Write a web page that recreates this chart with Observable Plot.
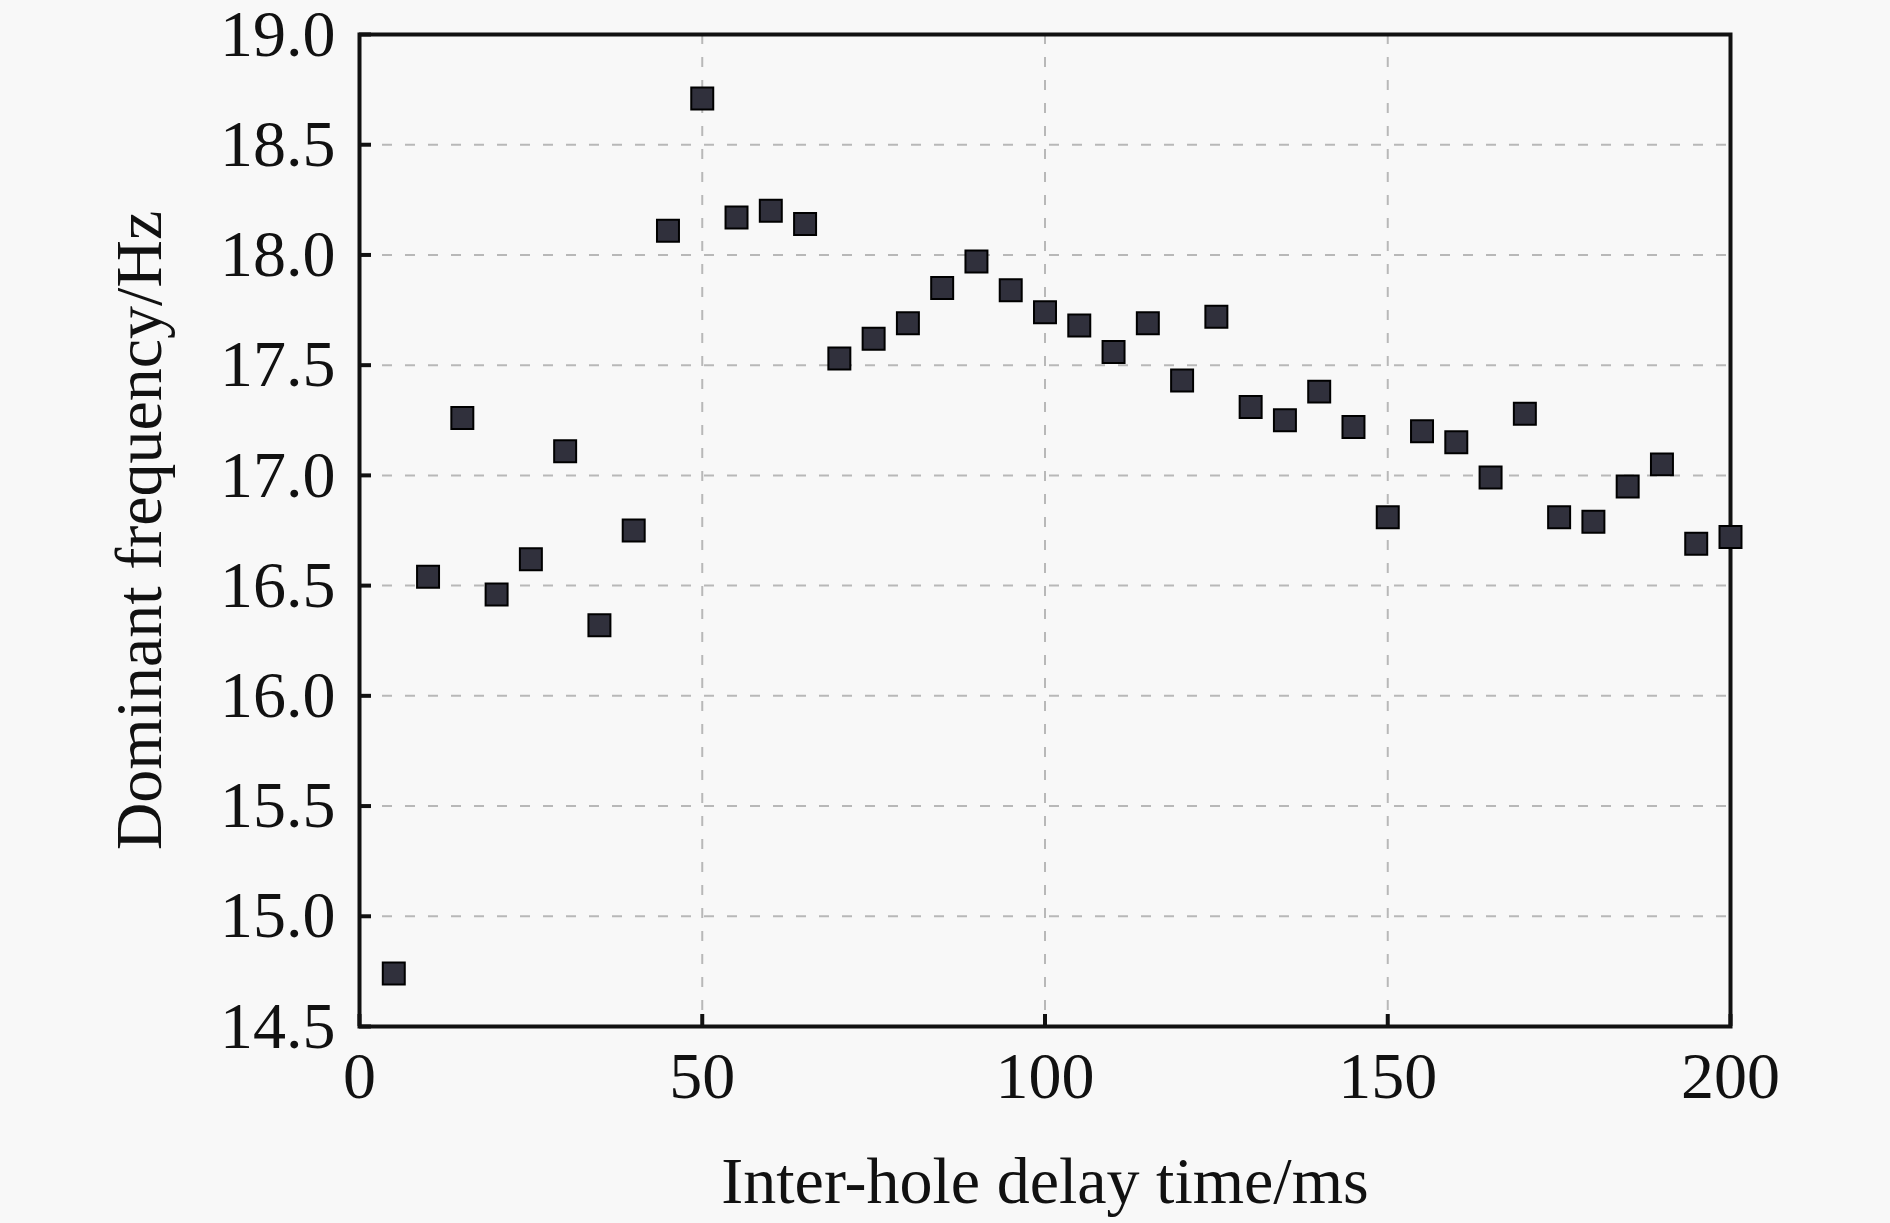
<!DOCTYPE html>
<html>
<head>
<meta charset="utf-8">
<script src="https://cdn.jsdelivr.net/npm/d3@7"></script>
<script src="https://cdn.jsdelivr.net/npm/@observablehq/plot@0.6"></script>
<style>
  html, body { margin: 0; padding: 0; background: #f8f8f8; }
  svg { display: block; }
</style>
</head>
<body>
<div id="chart"></div>
<script>
const delay = [5,10,15,20,25,30,35,40,45,50,55,60,65,70,75,80,85,90,95,100,105,110,115,120,125,130,135,140,145,150,155,160,165,170,175,180,185,190,195,200];
const freq = [14.74,16.54,17.26,16.46,16.62,17.11,16.32,16.75,18.11,18.71,18.17,18.20,18.14,17.53,17.62,17.69,17.85,17.97,17.84,17.74,17.68,17.56,17.69,17.43,17.72,17.31,17.25,17.38,17.22,16.81,17.20,17.15,16.99,17.28,16.81,16.79,16.95,17.05,16.69,16.72];
const xTicks = [0,50,100,150,200];
const yTicks = [14.5,15.0,15.5,16.0,16.5,17.0,17.5,18.0,18.5,19.0];
const xGrid = [50,100,150];
const yGrid = [15.0,15.5,16.0,16.5,17.0,17.5,18.0,18.5];

const data = delay.map((d, i) => ({delay: d, freq: freq[i]}));

const chart = Plot.plot({
  width: 1890,
  height: 1223,
  marginLeft: 359,
  marginRight: 160,
  marginTop: 34,
  marginBottom: 197,
  style: {background: "#f8f8f8", fontFamily: "'Liberation Serif', 'Times New Roman', serif", fontSize: "66px", color: "#111"},
  x: {domain: [0, 200]},
  y: {domain: [14.5, 19]},
  marks: [
    Plot.gridX(xGrid, {stroke: "#b8b8b8", strokeOpacity: 1, strokeWidth: 2, strokeDasharray: "10,13"}),
    Plot.gridY(yGrid, {stroke: "#b8b8b8", strokeOpacity: 1, strokeWidth: 2, strokeDasharray: "10,13"}),
    Plot.axisX(xTicks, {tickSize: 0, tickPadding: 25, label: "Inter-hole delay time/ms", labelAnchor: "center", labelArrow: "none", labelOffset: 176, fontSize: 66}),
    Plot.axisX(xTicks, {tickSize: -12, strokeWidth: 4, text: null, label: null}),
    Plot.axisY(yTicks, {tickSize: 0, tickPadding: 24, tickFormat: d3.format(".1f"), label: "Dominant frequency/Hz", labelAnchor: "center", labelArrow: "none", labelOffset: 245, fontSize: 66}),
    Plot.axisY(yTicks, {tickSize: -12, strokeWidth: 4, text: null, label: null}),
    Plot.frame({stroke: "#111", strokeWidth: 4}),
    Plot.dot(data, {x: "delay", y: "freq", symbol: "square", r: 12.4, fill: "#30303c", stroke: "#000", strokeWidth: 2, clip: false})
  ]
});
document.getElementById("chart").append(chart);
</script>
</body>
</html>
